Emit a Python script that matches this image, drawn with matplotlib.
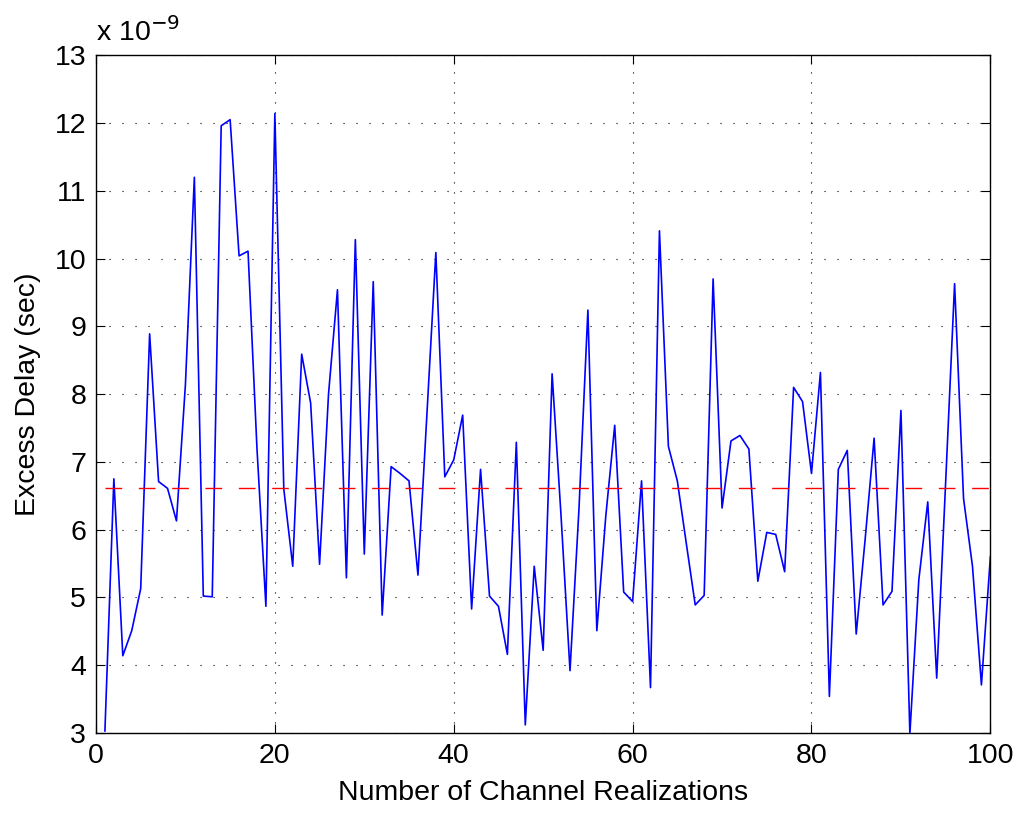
import matplotlib
matplotlib.use("Agg")
import matplotlib.pyplot as plt
import numpy as np

plt.rcParams['font.family'] = ['Liberation Sans', 'DejaVu Sans']

realization = list(range(1, 101))
# Excess delay in units of 1e-9 s
excess_delay_ns = [
    3.03, 6.75, 4.14, 4.51, 5.13, 8.89, 6.71, 6.61, 6.13, 8.14,
    11.20, 5.02, 5.01, 11.96, 12.05, 10.04, 10.11, 7.20, 4.87, 12.14,
    6.60, 5.46, 8.59, 7.87, 5.49, 8.00, 9.54, 5.29, 10.28, 5.64,
    9.66, 4.74, 6.93, 6.83, 6.72, 5.33, 7.70, 10.09, 6.78, 7.03,
    7.69, 4.83, 6.89, 5.02, 4.87, 4.16, 7.29, 3.12, 5.46, 4.22,
    8.30, 6.20, 3.92, 6.30, 9.24, 4.51, 6.20, 7.54, 5.08, 4.94,
    6.72, 3.67, 10.41, 7.23, 6.72, 5.80, 4.89, 5.03, 9.70, 6.32,
    7.31, 7.39, 7.19, 5.24, 5.96, 5.93, 5.38, 8.10, 7.89, 6.83,
    8.32, 3.54, 6.89, 7.17, 4.46, 5.86, 7.35, 4.89, 5.09, 7.76,
    2.99, 5.26, 6.41, 3.81, 6.70, 9.63, 6.46, 5.46, 3.71, 5.60,
]
mean_delay_ns = 6.61
x_ticks = [0, 20, 40, 60, 80, 100]
y_ticks = list(range(3, 14))

FS = 20.5

fig = plt.figure(figsize=(10.21, 8.13), dpi=100)
ax = fig.add_axes([0.094, 0.0984, 0.876, 0.8336])

ax.plot(realization, excess_delay_ns, color='#0000ff', lw=1.2, zorder=3)
ax.plot([1, 100], [mean_delay_ns, mean_delay_ns], color='#ff0000', lw=1.0,
        dashes=(12, 12), zorder=3)

ax.set_xlim(0, 100)
ax.set_ylim(3, 13)
ax.set_xticks(x_ticks)
ax.set_yticks(y_ticks)
ax.tick_params(direction='in', top=True, right=True, labelsize=FS,
               length=6.5, width=0.8, pad=7)
ax.xaxis.grid(True, color='black', lw=0.8, dashes=(1.0, 8.0))
ax.yaxis.grid(True, color='black', lw=0.8, dashes=(1.0, 10.7))
for s in ax.spines.values():
    s.set_linewidth(1.0)

ax.set_xlabel('Number of Channel Realizations', fontsize=FS, labelpad=8)
ax.set_ylabel('Excess Delay (sec)', fontsize=FS, labelpad=10)
ax.text(0.0, 1.012, r'x 10$^{-9}$', transform=ax.transAxes, fontsize=FS,
        ha='left', va='bottom')

fig.savefig('out.png', dpi=100, facecolor='white')
